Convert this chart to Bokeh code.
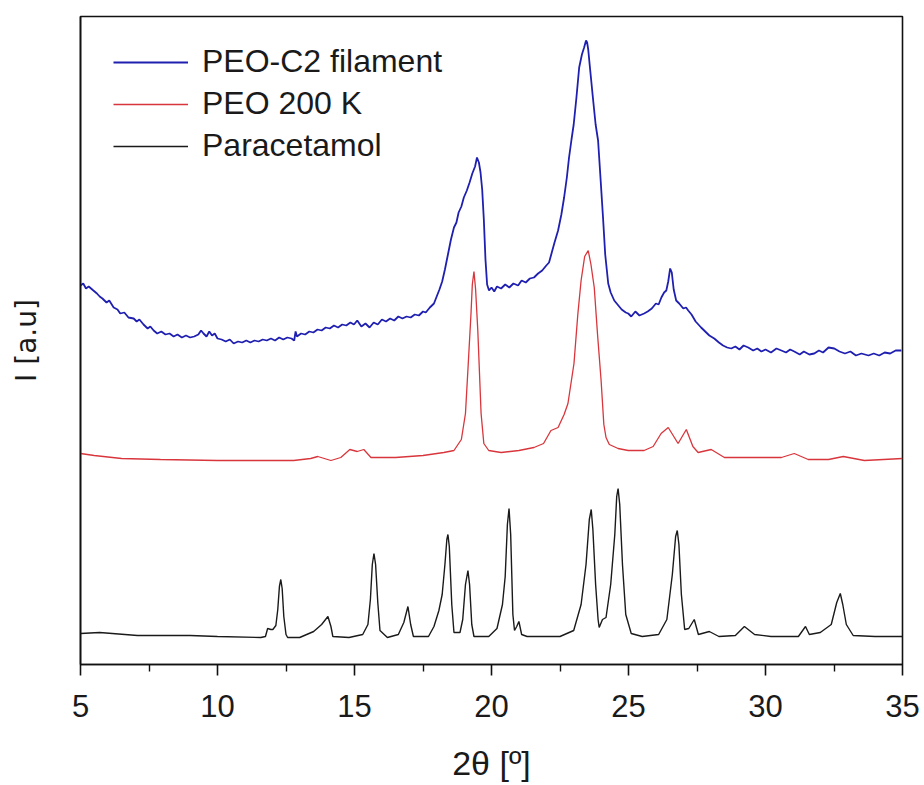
from bokeh.plotting import figure
from bokeh.models import Range1d, FixedTicker, Legend, LegendItem
from bokeh.embed import file_html
from bokeh.resources import INLINE

# ---------------- data ----------------
x_ticks = [5, 10, 15, 20, 25, 30, 35]
x_minor = [7.5, 12.5, 17.5, 22.5, 27.5, 32.5]
series_names = ["PEO-C2 filament", "PEO 200 K", "Paracetamol"]

blue_x = [5.00, 5.10, 5.20, 5.30, 5.47, 5.60, 5.70, 5.80, 5.95, 6.05, 6.21, 6.35, 6.45, 6.60, 6.75, 6.94,
          7.05, 7.15, 7.30, 7.45, 7.55, 7.67, 7.80, 7.95, 8.10, 8.25, 8.40, 8.54, 8.70, 8.85, 9.00, 9.15,
          9.30, 9.40, 9.49, 9.60, 9.70, 9.80, 9.90, 10.00, 10.15, 10.30, 10.45, 10.59, 10.75, 10.90, 11.05,
          11.20, 11.35, 11.50, 11.65, 11.80, 11.95, 12.10, 12.25, 12.40, 12.55, 12.70, 12.80, 12.85, 12.90,
          13.05, 13.20, 13.35, 13.50, 13.65, 13.80, 13.95, 14.10, 14.25, 14.40, 14.55, 14.70, 14.85, 14.98,
          15.10, 15.25, 15.40, 15.55, 15.70, 15.85, 16.00, 16.15, 16.30, 16.45, 16.60, 16.75, 16.90, 17.05,
          17.20, 17.35, 17.50, 17.60, 17.75, 17.90, 18.00, 18.10, 18.20, 18.30, 18.41, 18.52, 18.63, 18.72,
          18.80, 18.90, 18.99, 19.10, 19.20, 19.30, 19.40, 19.47, 19.54, 19.60, 19.66, 19.72, 19.78, 19.84,
          19.91, 20.00, 20.10, 20.20, 20.35, 20.50, 20.65, 20.80, 20.97, 21.10, 21.25, 21.40, 21.55, 21.70,
          21.85, 22.00, 22.10, 22.20, 22.30, 22.43, 22.55, 22.65, 22.75, 22.83, 22.92, 23.00, 23.10, 23.20,
          23.30, 23.38, 23.45, 23.49, 23.53, 23.60, 23.70, 23.80, 23.89, 23.97, 24.07, 24.15, 24.26, 24.35,
          24.48, 24.60, 24.75, 24.90, 24.99, 25.10, 25.25, 25.40, 25.57, 25.70, 25.85, 26.00, 26.10, 26.20,
          26.30, 26.38, 26.45, 26.52, 26.58, 26.65, 26.74, 26.85, 27.00, 27.10, 27.18, 27.30, 27.45, 27.55,
          27.65, 27.80, 27.95, 28.13, 28.30, 28.45, 28.60, 28.75, 28.90, 29.05, 29.20, 29.37, 29.55, 29.70,
          29.85, 30.00, 30.20, 30.40, 30.58, 30.75, 30.90, 31.05, 31.25, 31.40, 31.60, 31.78, 31.95, 32.10,
          32.30, 32.51, 32.70, 32.90, 33.10, 33.30, 33.50, 33.76, 33.95, 34.15, 34.35, 34.55, 34.75, 34.96]
blue_y = [379, 381, 376, 378, 374, 371, 368, 366, 362, 364, 357, 355, 351, 352, 347, 346,
          343, 345, 340, 336, 338, 334, 331, 333, 330, 331, 328, 330, 327, 329, 327, 328,
          330, 334, 331, 328, 333, 329, 331, 326, 325, 323, 325, 321, 323, 322, 324,
          322, 324, 323, 325, 324, 326, 324, 327, 325, 327, 326, 324, 333, 328,
          331, 330, 333, 332, 335, 334, 337, 336, 339, 337, 340, 339, 342, 340,
          344, 338, 341, 337, 342, 340, 345, 343, 346, 344, 348, 346, 348, 347,
          350, 349, 353, 352, 357, 361, 368, 375, 383, 395, 410, 425, 437, 442,
          452, 458, 467, 474, 482, 491, 498, 507, 502, 492, 475, 445, 405, 380,
          374, 377, 373, 378, 376, 380, 377, 381, 379, 384, 382, 386, 387, 391,
          394, 399, 402, 412, 422, 434, 450, 467, 487, 507, 525, 540, 567, 597,
          610, 617, 624, 622, 615, 595, 567, 540, 524, 490, 447, 410, 381, 372,
          364, 360, 355, 352, 351, 348, 353, 349, 351, 353, 356, 361, 360, 367,
          372, 374, 383, 396, 392, 375, 364, 361, 356, 357, 354, 350, 343, 340,
          337, 333, 329, 326, 322, 319, 317, 316, 318, 315, 319, 317, 314, 316,
          313, 315, 312, 316, 314, 312, 315, 313, 310, 313, 310, 311, 314, 312,
          317, 316, 313, 311, 313, 309, 311, 309, 311, 309, 312, 311, 314, 314]

red_x = [5.00, 5.50, 6.50, 7.92, 10.00, 12.00, 12.78, 13.40, 13.66, 14.14, 14.50, 14.83, 15.10, 15.34,
         15.60, 16.50, 17.50, 18.26, 18.63, 18.90, 19.05, 19.15, 19.25, 19.30, 19.36, 19.42, 19.50, 19.62,
         19.72, 19.90, 20.35, 21.00, 21.55, 21.90, 22.17, 22.43, 22.65, 22.79, 23.01, 23.15, 23.27, 23.40,
         23.53, 23.63, 23.75, 23.87, 24.00, 24.10, 24.18, 24.30, 24.62, 24.99, 25.57, 25.90, 26.19, 26.45,
         26.81, 27.11, 27.35, 27.54, 28.02, 28.50, 29.50, 30.58, 31.05, 31.56, 32.30, 32.84, 33.61, 35.00]
red_y = [211, 209, 206, 205, 204, 204, 204, 206, 208, 204, 207, 215, 213, 215,
         207, 207, 209, 212, 214, 225, 251, 300, 350, 380, 393, 375, 334, 251,
         221, 214, 212, 214, 217, 221, 234, 237, 250, 261, 301, 350, 384, 408,
         414, 400, 377, 330, 284, 240, 227, 220, 216, 214, 214, 218, 231, 237,
         221, 235, 218, 212, 215, 207, 207, 207, 211, 205, 205, 208, 204, 206]

black_x = [5.00, 5.70, 7.08, 9.00, 10.00, 11.58, 11.75, 11.83, 11.95, 12.02, 12.13, 12.20, 12.26, 12.31,
           12.36, 12.42, 12.50, 12.56, 13.00, 13.51, 13.80, 14.03, 14.14, 14.21, 14.80, 15.30, 15.49, 15.58,
           15.65, 15.71, 15.77, 15.85, 15.93, 16.20, 16.60, 16.80, 16.95, 17.05, 17.15, 17.70, 17.90, 18.08,
           18.20, 18.30, 18.37, 18.41, 18.46, 18.55, 18.63, 18.85, 18.95, 19.05, 19.14, 19.20, 19.28, 19.36,
           19.90, 20.20, 20.40, 20.50, 20.58, 20.64, 20.70, 20.78, 20.84, 20.92, 21.00, 21.10, 21.30, 22.50,
           23.00, 23.27, 23.45, 23.57, 23.64, 23.70, 23.80, 23.89, 23.93, 24.05, 24.18, 24.35, 24.50, 24.57,
           24.62, 24.68, 24.78, 24.90, 25.10, 25.50, 26.10, 26.40, 26.60, 26.72, 26.78, 26.84, 26.93, 27.05,
           27.20, 27.40, 27.55, 27.95, 28.30, 28.90, 29.23, 29.60, 30.20, 31.20, 31.46, 31.60, 32.00, 32.40,
           32.60, 32.73, 32.82, 32.95, 33.20, 34.00, 35.00]
black_y = [31, 32, 29, 29, 28, 27, 28, 36, 35, 35, 39, 55, 78, 85,
           76, 48, 30, 27, 27, 33, 40, 48, 38, 28, 27, 30, 40, 65,
           100, 111, 100, 62, 34, 27, 30, 42, 58, 40, 28, 28, 38, 54,
           70, 100, 125, 130, 118, 60, 32, 32, 45, 80, 94, 80, 40, 28,
           28, 36, 60, 88, 140, 156, 130, 50, 34, 38, 43, 30, 28, 28,
           34, 60, 100, 145, 155, 135, 80, 45, 37, 45, 47, 80, 130, 168,
           176, 160, 100, 50, 31, 28, 30, 45, 90, 128, 134, 120, 70, 35,
           36, 45, 30, 33, 28, 29, 38, 30, 28, 28, 38, 30, 32, 40,
           62, 71, 60, 40, 29, 28, 28]

# ---------------- figure ----------------
FONT = "Liberation Sans"

p = figure(width=924, height=785, output_backend="svg", toolbar_location=None,
           x_range=Range1d(5, 35), y_range=Range1d(0, 648),
           min_border_left=80, min_border_right=22, min_border_top=16, min_border_bottom=121)
p.background_fill_color = "white"
p.border_fill_color = "white"
p.grid.visible = False
p.outline_line_color = "#111111"
p.outline_line_width = 1.6

r_blue = p.line(blue_x, blue_y, line_color="#1f1fb0", line_width=1.8)
r_red = p.line(red_x, red_y, line_color="#d8363c", line_width=1.3)
r_black = p.line(black_x, black_y, line_color="#1a1a1a", line_width=1.4)

xa = p.xaxis[0]
xa.ticker = FixedTicker(ticks=x_ticks, minor_ticks=x_minor)
xa.axis_line_color = "#111111"
xa.axis_line_width = 1.6
xa.major_tick_line_color = "#111111"
xa.major_tick_line_width = 1.6
xa.minor_tick_line_color = "#111111"
xa.minor_tick_line_width = 1.4
xa.major_tick_out = 11
xa.major_tick_in = 0
xa.minor_tick_out = 7
xa.minor_tick_in = 0
xa.major_label_text_font = FONT
xa.major_label_text_font_size = "31px"
xa.major_label_text_color = "#1a1a1a"
xa.major_label_standoff = 19
xa.axis_label = "2θ [º]"
xa.axis_label_text_font = FONT
xa.axis_label_text_font_size = "34px"
xa.axis_label_text_font_style = "normal"
xa.axis_label_text_color = "#1a1a1a"
xa.axis_label_standoff = 24

ya = p.yaxis[0]
ya.ticker = FixedTicker(ticks=[])
ya.axis_line_color = "#111111"
ya.axis_line_width = 1.6
ya.major_tick_line_color = None
ya.minor_tick_line_color = None
ya.major_label_text_font_size = "0px"
ya.axis_label = "I [a.u]"
ya.axis_label_text_font = "DejaVu Sans"
ya.axis_label_text_font_size = "28px"
ya.axis_label_text_font_style = "normal"
ya.axis_label_text_color = "#1a1a1a"
ya.axis_label_standoff = 38

legend = Legend(items=[LegendItem(label=series_names[0], renderers=[r_blue]),
                       LegendItem(label=series_names[1], renderers=[r_red]),
                       LegendItem(label=series_names[2], renderers=[r_black])],
                location=(33, 500))
legend.border_line_color = None
legend.background_fill_alpha = 0
legend.margin = 0
legend.padding = 0
legend.spacing = 5
legend.glyph_width = 75
legend.glyph_height = 30
legend.label_standoff = 14
legend.label_text_font = FONT
legend.label_text_font_size = "32px"
legend.label_text_color = "#1a1a1a"
legend.label_text_baseline = "middle"
p.add_layout(legend, "center")

open("out.html", "w").write(file_html(p, INLINE))
